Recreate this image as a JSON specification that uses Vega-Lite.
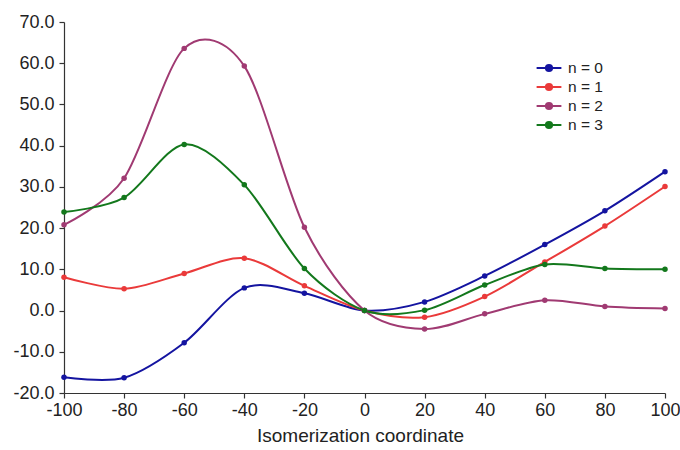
{
  "$schema": "https://vega.github.io/schema/vega-lite/v6.json",
  "autosize": "none",
  "padding": {"left": 64, "top": 22, "right": 15, "bottom": 57},
  "width": 601,
  "height": 371,
  "background": "white",
  "config": {
    "view": {"stroke": null},
    "font": "Liberation Sans",
    "axis": {"grid": false, "domainColor": "#333333", "tickColor": "#333333", "labelColor": "#222222", "titleColor": "#222222", "labelFont": "Liberation Sans", "titleFont": "Liberation Sans", "domainWidth": 1.2, "tickWidth": 1.2, "labelFlush": false}
  },
  "data": {
    "values": [
      {"x": -100, "y": -16.2, "n": "n = 0"}, {"x": -80, "y": -16.3, "n": "n = 0"}, {"x": -60, "y": -7.8, "n": "n = 0"}, {"x": -40, "y": 5.5, "n": "n = 0"}, {"x": -20, "y": 4.2, "n": "n = 0"}, {"x": 0, "y": 0, "n": "n = 0"}, {"x": 20, "y": 2.1, "n": "n = 0"}, {"x": 40, "y": 8.4, "n": "n = 0"}, {"x": 60, "y": 16.0, "n": "n = 0"}, {"x": 80, "y": 24.2, "n": "n = 0"}, {"x": 100, "y": 33.7, "n": "n = 0"},
      {"x": -100, "y": 8.1, "n": "n = 1"}, {"x": -80, "y": 5.3, "n": "n = 1"}, {"x": -60, "y": 9.0, "n": "n = 1"}, {"x": -40, "y": 12.7, "n": "n = 1"}, {"x": -20, "y": 6.0, "n": "n = 1"}, {"x": 0, "y": 0, "n": "n = 1"}, {"x": 20, "y": -1.6, "n": "n = 1"}, {"x": 40, "y": 3.4, "n": "n = 1"}, {"x": 60, "y": 11.8, "n": "n = 1"}, {"x": 80, "y": 20.5, "n": "n = 1"}, {"x": 100, "y": 30.1, "n": "n = 1"},
      {"x": -100, "y": 20.8, "n": "n = 2"}, {"x": -80, "y": 32.1, "n": "n = 2"}, {"x": -60, "y": 63.6, "n": "n = 2"}, {"x": -40, "y": 59.3, "n": "n = 2"}, {"x": -20, "y": 20.2, "n": "n = 2"}, {"x": 0, "y": 0, "n": "n = 2"}, {"x": 20, "y": -4.5, "n": "n = 2"}, {"x": 40, "y": -0.8, "n": "n = 2"}, {"x": 60, "y": 2.5, "n": "n = 2"}, {"x": 80, "y": 1.0, "n": "n = 2"}, {"x": 100, "y": 0.5, "n": "n = 2"},
      {"x": -100, "y": 23.9, "n": "n = 3"}, {"x": -80, "y": 27.4, "n": "n = 3"}, {"x": -60, "y": 40.3, "n": "n = 3"}, {"x": -40, "y": 30.5, "n": "n = 3"}, {"x": -20, "y": 10.2, "n": "n = 3"}, {"x": 0, "y": 0, "n": "n = 3"}, {"x": 20, "y": 0.1, "n": "n = 3"}, {"x": 40, "y": 6.2, "n": "n = 3"}, {"x": 60, "y": 11.2, "n": "n = 3"}, {"x": 80, "y": 10.2, "n": "n = 3"}, {"x": 100, "y": 10.0, "n": "n = 3"}
    ]
  },
  "encoding": {
    "x": {"field": "x", "type": "quantitative", "scale": {"domain": [-100, 100], "nice": false}, "axis": {"values": [-100, -80, -60, -40, -20, 0, 20, 40, 60, 80, 100], "labelExpr": "(datum.value < 0 ? '-' : '') + format(abs(datum.value), 'd')", "title": "Isomerization coordinate", "labelFontSize": 18, "titleFontSize": 19, "titleFontWeight": "normal", "tickSize": 5, "labelPadding": 3, "titlePadding": 7, "titleX": 296}},
    "y": {"field": "y", "type": "quantitative", "scale": {"domain": [-20, 70], "nice": false}, "axis": {"values": [-20, -10, 0, 10, 20, 30, 40, 50, 60, 70], "labelExpr": "(datum.value < 0 ? '-' : '') + format(abs(datum.value), '.1f')", "title": null, "labelFontSize": 18, "tickSize": 5, "labelPadding": 5}},
    "color": {"field": "n", "type": "nominal", "scale": {"domain": ["n = 0", "n = 1", "n = 2", "n = 3"], "range": ["#1414a0", "#ea3a3a", "#a03a72", "#13781c"]},
      "legend": {"title": null, "orient": "none", "legendX": 476, "legendY": 37, "labelFontSize": 15.5, "labelColor": "#222222", "symbolType": "M-1.6,0H1.6M-0.4,0A0.4,0.4,0,1,1,0.4,0A0.4,0.4,0,1,1,-0.4,0Z", "symbolSize": 240, "symbolStrokeWidth": 2, "rowPadding": 1, "labelOffset": 10}}
  },
  "layer": [
    {"mark": {"type": "line", "interpolate": "cardinal", "tension": 0.1, "strokeWidth": 2}},
    {"mark": {"type": "point", "filled": true, "size": 30, "opacity": 1}}
  ]
}
